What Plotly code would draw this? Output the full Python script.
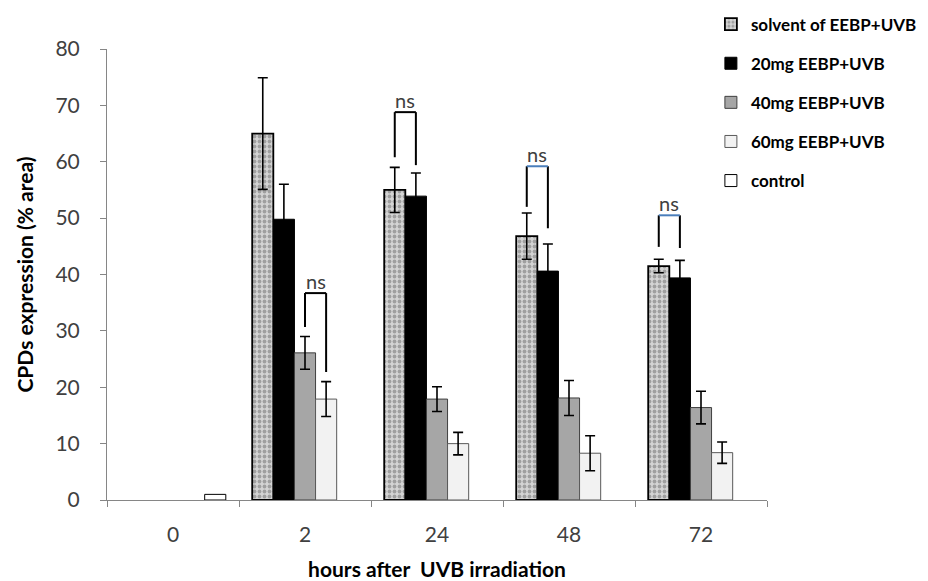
import plotly.graph_objects as go

categories = ["0", "2", "24", "48", "72"]
series_names = ["solvent of EEBP+UVB", "20mg EEBP+UVB", "40mg EEBP+UVB", "60mg EEBP+UVB", "control"]

solvent = [None, 65.0, 55.0, 46.8, 41.5]
solvent_err = [None, 9.9, 4.0, 4.1, 1.2]
mg20 = [None, 49.8, 53.9, 40.6, 39.4]
mg20_err = [None, 6.2, 4.1, 4.8, 3.1]
mg40 = [None, 26.1, 17.9, 18.1, 16.4]
mg40_err = [None, 2.9, 2.2, 3.1, 2.9]
mg60 = [None, 17.9, 10.0, 8.3, 8.4]
mg60_err = [None, 3.1, 2.0, 3.1, 1.9]
control = [1.0, None, None, None, None]
control_err = [None, None, None, None, None]

# "ns" brackets: group, pair of series, bracket top, left/right leg bottoms
ns_groups = [1, 2, 3, 4]
ns_pairs = [(2, 3), (0, 1), (0, 1), (0, 1)]
ns_top = [36.7, 68.8, 59.2, 50.5]
ns_left_bottom = [30.7, 60.8, 52.0, 44.9]
ns_right_bottom = [22.7, 59.4, 48.2, 44.7]
ns_bar_colors = ["black", "black", "#4a7ebb", "#4a7ebb"]

values = [solvent, mg20, mg40, mg60, control]
errors = [solvent_err, mg20_err, mg40_err, mg60_err, control_err]

fill_colors = ["#c9c9c9", "#000000", "#a6a6a6", "#f2f2f2", "#ffffff"]
line_colors = ["#000000", "#000000", "#3f3f3f", "#595959", "#000000"]
line_widths = [1.8, 1.0, 1.0, 1.0, 1.0]

fig = go.Figure()
for k in range(5):
    marker = dict(color=fill_colors[k], line=dict(color=line_colors[k], width=line_widths[k]))
    if k == 0:
        marker["pattern"] = dict(shape=".", fillmode="overlay", bgcolor="#d4d4d4",
                                 fgcolor="#6a6a6a", size=5, solidity=0.45)
    fig.add_trace(go.Bar(
        x=categories, y=values[k], name=series_names[k],
        marker=marker,
        legendgroup=str(k),
        error_y=dict(type="data", array=[e if e is not None else 0 for e in errors[k]],
                     visible=any(e is not None for e in errors[k]),
                     color="black", thickness=1.6, width=5),
    ))

n_series = 5
bargap = 0.2
bw = (1 - bargap) / n_series
shapes = []
annotations = []
for g, (a, b), top, lb, rb, col in zip(ns_groups, ns_pairs, ns_top, ns_left_bottom, ns_right_bottom, ns_bar_colors):
    xl = g + (a - (n_series - 1) / 2) * bw
    xr = g + (b - (n_series - 1) / 2) * bw
    shapes.append(dict(type="line", xref="x", yref="y", x0=xl, x1=xl, y0=lb, y1=top,
                       line=dict(color="black", width=2)))
    shapes.append(dict(type="line", xref="x", yref="y", x0=xr, x1=xr, y0=rb, y1=top,
                       line=dict(color="black", width=2)))
    shapes.append(dict(type="line", xref="x", yref="y", x0=xl, x1=xr, y0=top, y1=top,
                       line=dict(color=col, width=2)))
    annotations.append(dict(x=(xl + xr) / 2, y=top, xref="x", yref="y", text="ns",
                            showarrow=False, yanchor="bottom", yshift=-2,
                            font=dict(family="Lato", size=20, color="#404040")))

# the page body adds an 8 px offset, so the figure is drawn 8 px smaller
fig.update_layout(
    width=920, height=573,
    margin=dict(l=99, r=161, t=41, b=81, autoexpand=False),
    paper_bgcolor="white", plot_bgcolor="white",
    barmode="group", bargap=bargap, bargroupgap=0,
    font=dict(family="Lato", color="#404040"),
    shapes=shapes, annotations=annotations,
    legend=dict(x=0.915, y=1.094, xanchor="left", yanchor="top",
                font=dict(family="Lato", size=17, color="#000000", weight="bold"),
                tracegroupgap=14, itemwidth=30, bgcolor="rgba(0,0,0,0)"),
    xaxis=dict(type="category", tickson="boundaries", ticks="outside", ticklen=6,
               tickcolor="#868686", showline=True, linecolor="#868686", linewidth=1,
               showgrid=False, ticklabelstandoff=16,
               tickfont=dict(family="Lato", size=21, color="#404040"),
               title=dict(text="<b>hours after  UVB irradiation</b>",
                          font=dict(family="Lato", size=21, color="#000000"), standoff=17)),
    yaxis=dict(range=[0, 80], dtick=10, ticks="outside", ticklen=6,
               tickcolor="#868686", showline=True, linecolor="#868686", linewidth=1,
               showgrid=False, zeroline=False, ticklabelstandoff=16,
               tickfont=dict(family="Lato", size=21, color="#404040"),
               title=dict(text="<b>CPDs expression (% area)</b>",
                          font=dict(family="Lato", size=21, color="#000000"), standoff=16)),
)

fig.write_html("out.html")
